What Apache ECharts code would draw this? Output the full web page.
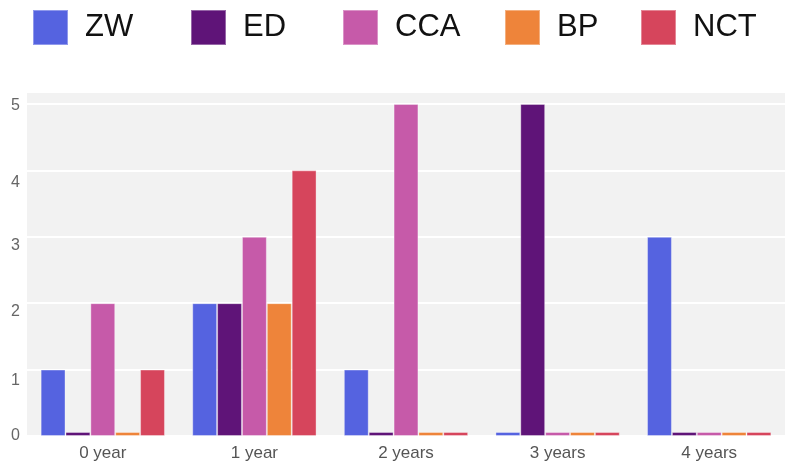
<!DOCTYPE html>
<html>
<head>
<meta charset="utf-8">
<style>
  html, body { margin: 0; padding: 0; background: #ffffff; }
  #chart { width: 791px; height: 466px; }
</style>
<script src="https://cdn.jsdelivr.net/npm/echarts@6/dist/echarts.min.js"></script>
</head>
<body>
<div id="chart"></div>
<script>
// Categories (time since start) and counts per group
const categories = ['0 year', '1 year', '2 years', '3 years', '4 years'];
const seriesNames = ['ZW', 'ED', 'CCA', 'BP', 'NCT'];
const zwValues  = [1, 2, 1, 0, 3];
const edValues  = [0, 2, 0, 5, 0];
const ccaValues = [2, 3, 5, 0, 0];
const bpValues  = [0, 2, 0, 0, 0];
const nctValues = [1, 4, 0, 0, 0];
const yTickLabels = ['0', '1', '2', '3', '4', '5'];

const colors = ['#5563e0', '#5f1478', '#c65aa9', '#ee843a', '#d6455c'];
const valuesBySeries = [zwValues, edValues, ccaValues, bpValues, nctValues];

const fontFamily = '"Liberation Sans", Arial, Helvetica, sans-serif';

// Legend entries each get their own slot across the top
const legendLefts = [32, 190, 342, 504, 640];
const legends = seriesNames.map((name, i) => ({
  data: [{ name: name, icon: 'rect' }],
  left: legendLefts[i],
  top: 9,
  padding: 0,
  itemWidth: 35,
  itemHeight: 35,
  selectedMode: false,
  textStyle: {
    fontFamily: fontFamily,
    fontSize: 31,
    color: '#111111',
    padding: [0, 0, 5, 12]
  }
}));

// Small per-tick vertical nudges of the y labels
const yLabelShift = { '0': 0, '1': 11, '2': 8, '3': 9, '4': 12, '5': 2 };
const yRich = {};
yTickLabels.forEach(t => {
  yRich['l' + t] = {
    fontFamily: fontFamily,
    fontSize: 16,
    color: '#666666',
    padding: [yLabelShift[t] * 2, 0, 0, 0]
  };
});

const option = {
  animation: false,
  backgroundColor: '#ffffff',
  color: colors,
  legend: legends,
  grid: {
    left: 27,
    right: 6,
    top: 92,
    bottom: 30,
    show: true,
    backgroundColor: '#f2f2f2',
    borderWidth: 0
  },
  xAxis: {
    type: 'category',
    data: categories,
    axisLine: { show: false },
    axisTick: { show: false },
    axisLabel: {
      fontFamily: fontFamily,
      fontSize: 17,
      color: '#555555',
      margin: 9
    }
  },
  yAxis: {
    type: 'value',
    min: 0,
    max: 5.18,
    interval: 1,
    axisLine: { show: false },
    axisTick: { show: false },
    splitLine: { lineStyle: { color: '#ffffff', width: 2 } },
    axisLabel: {
      margin: 7,
      formatter: function (v) {
        const s = String(v);
        return yTickLabels.indexOf(s) >= 0 ? '{l' + s + '|' + s + '}' : '';
      },
      rich: yRich
    }
  },
  series: seriesNames.map((name, i) => ({
    name: name,
    type: 'bar',
    data: valuesBySeries[i],
    barGap: '0%',
    barCategoryGap: '18%',
    barMinHeight: 4,
    itemStyle: {
      color: colors[i],
      borderColor: 'rgba(255,255,255,0.35)',
      borderWidth: 1
    },
    emphasis: { disabled: true }
  }))
};

const chart = echarts.init(document.getElementById('chart'), null, { renderer: 'canvas' });
chart.setOption(option);
</script>
</body>
</html>
